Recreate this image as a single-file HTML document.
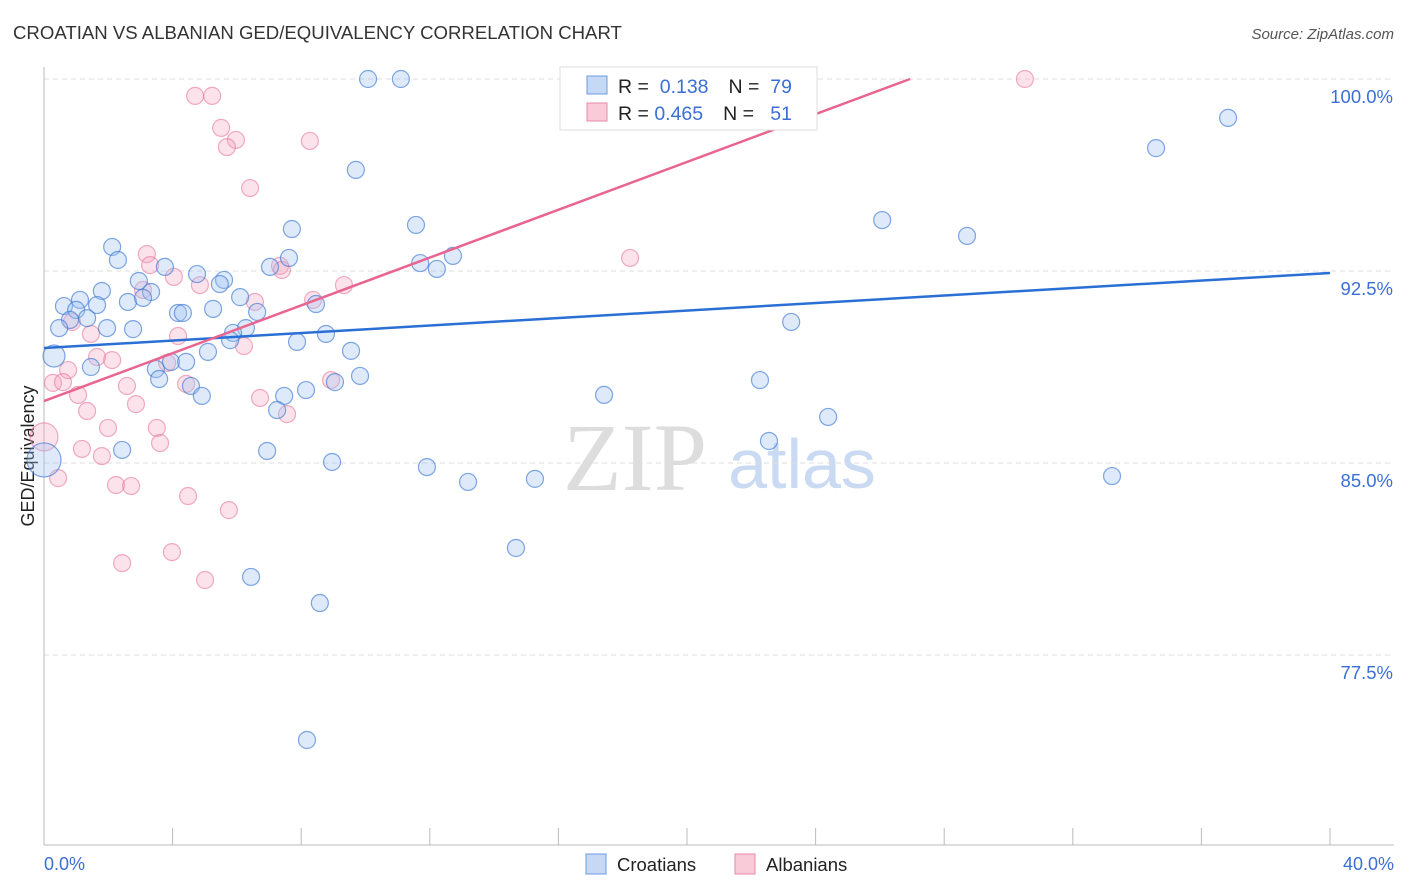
<!DOCTYPE html>
<html><head><meta charset="utf-8"><style>
body{margin:0;background:#fff;font-family:"Liberation Sans",sans-serif;}
svg{display:block}
</style></head><body>
<svg id="chart" width="1406" height="892" xmlns="http://www.w3.org/2000/svg">
<text x="13" y="39" font-size="18.6" fill="#333">CROATIAN VS ALBANIAN GED/EQUIVALENCY CORRELATION CHART</text>
<text x="1394" y="39" font-size="15" fill="#555" font-style="italic" text-anchor="end">Source: ZipAtlas.com</text>
<g>
<text x="635" y="490" font-size="96" fill="#ddd" font-family="Liberation Serif,serif" text-anchor="middle">ZIP</text>
<text x="802" y="488" font-size="70" fill="#c9daf2" text-anchor="middle">atlas</text>
</g>
<g id="grid"></g>
<line x1="44" y1="67" x2="44" y2="845" stroke="#bbb"/>
<line x1="44" y1="845" x2="1394" y2="845" stroke="#bbb"/>
<text transform="translate(34,456) rotate(-90)" font-size="18" fill="#222" text-anchor="middle">GED/Equivalency</text>
<text x="44" y="870" font-size="18" fill="#3b6fd4">0.0%</text>
<text x="1394" y="870" font-size="18" fill="#3b6fd4" text-anchor="end">40.0%</text>
<g id="pink"></g><g id="blue"></g><g id="lines"></g>
<g>
<rect x="560" y="67" width="257" height="63" fill="#fff" stroke="#ddd"/>
<rect x="587" y="76" width="20" height="18" fill="#c5d9f5" stroke="#6a9be0"/>
<rect x="587" y="103" width="20" height="18" fill="#f9cad8" stroke="#e88aa8"/>
<text x="618" y="93" font-size="19.5" fill="#222">R = <tspan fill="#3b6fd4">&#160;0.138</tspan><tspan dx="20">N = </tspan><tspan fill="#3b6fd4">&#160;79</tspan></text>
<text x="618" y="120" font-size="19.5" fill="#222">R = <tspan fill="#3b6fd4">0.465</tspan><tspan dx="20">N = </tspan><tspan fill="#3b6fd4">&#160;&#160;51</tspan></text>
</g>
<g>
<rect x="586" y="854" width="20" height="20" fill="#c5d9f5" stroke="#6a9be0"/>
<text x="617" y="871" font-size="18.5" fill="#222">Croatians</text>
<rect x="735" y="854" width="20" height="20" fill="#f9cad8" stroke="#e88aa8"/>
<text x="766" y="871" font-size="18.5" fill="#222">Albanians</text>
</g>
</svg>
<script>
const yTicks=[100,92.5,85,77.5];
const yTickLabels=["100.0%","92.5%","85.0%","77.5%"];
const xTicks=[0,4,8,12,16,20,24,28,32,36,40];
const blueX=[10.08,11.10,17.98,16.67,36.83,34.59,9.70,26.07,28.71,7.71,11.57,2.12,2.30,12.72,7.62,11.70,12.22,7.03,3.76,4.76,5.60,5.47,2.95,3.33,1.80,0.62,1.12,1.65,2.61,3.08,6.10,1.00,1.34,0.81,0.47,1.96,2.77,4.17,4.32,5.26,6.63,8.46,6.28,5.88,5.79,7.87,8.77,23.24,9.55,5.10,0.31,1.46,3.48,3.95,4.42,3.58,4.57,4.91,7.47,8.15,9.05,9.83,22.27,17.42,7.25,24.39,22.55,2.43,6.94,0,8.96,11.91,13.19,15.27,33.22,14.68,6.44,8.58,8.18];
const blueY=[100,100,100,98.87,98.48,97.30,96.45,94.49,93.87,94.14,94.30,93.44,92.93,93.09,93.01,92.81,92.58,92.66,92.66,92.38,92.15,91.99,92.11,91.68,91.72,91.13,91.37,91.17,91.29,91.45,91.48,90.98,90.66,90.59,90.27,90.27,90.23,90.86,90.86,91.02,90.90,91.21,90.27,90.08,89.80,89.73,90.04,90.51,89.38,89.34,89.18,88.75,88.67,88.95,88.95,88.28,88.01,87.62,87.62,87.85,88.16,88.40,88.24,87.66,87.07,86.80,85.86,85.51,85.47,85.12,85.04,84.84,84.26,84.38,84.49,81.68,80.55,79.53,74.18];
const blueBig=[50,69];
const pinkX=[4.70,5.23,30.51,5.51,5.97,5.69,8.27,6.41,3.20,3.30,4.04,4.85,7.34,7.40,18.23,9.33,3.08,8.37,6.56,0.87,1.46,4.17,6.22,1.65,2.12,3.83,0.75,0.28,0.59,2.58,4.42,1.06,2.86,6.72,7.56,8.93,1.34,1.99,3.51,3.61,0,1.18,1.80,0.44,2.24,2.71,4.48,5.75,3.98,2.43,5.01];
const pinkY=[99.34,99.34,100,98.09,97.62,97.34,97.58,95.74,93.16,92.73,92.27,91.95,92.70,92.54,93.01,91.95,91.76,91.37,91.29,90.51,90.04,89.96,89.57,89.14,89.02,88.91,88.63,88.13,88.16,88.01,88.09,87.66,87.30,87.54,86.91,88.24,87.03,86.37,86.37,85.78,86.02,85.55,85.27,84.41,84.14,84.10,83.71,83.16,81.52,81.09,80.43];
const pinkBig=[40];
const blueTrend=[89.49,92.42];
const pinkTrend=[87.42,0.467];
const NS="http://www.w3.org/2000/svg";
const sx=v=>44+v*32.15, sy=v=>79+(100-v)*25.6;
function mk(t,a,p){const e=document.createElementNS(NS,t);for(const k in a)e.setAttribute(k,a[k]);p.appendChild(e);return e;}
const grid=document.getElementById('grid');
yTicks.forEach((t,i)=>{
 const l=mk('line',{x1:44,x2:1394,y1:sy(t),y2:sy(t),stroke:'#ddd','stroke-dasharray':'5,4'},grid);
 
 
 const tx=mk('text',{x:1393,y:sy(t)+24,'font-size':18.5,fill:'#3b6fd4','text-anchor':'end'},grid);
 tx.textContent=yTickLabels[i];
 
 
});
xTicks.forEach(t=>{
 const l=mk('line',{x1:sx(t),x2:sx(t),y1:828,y2:845,stroke:'#bbb'},grid);
 
 
});
const pg=document.getElementById('pink');
pinkX.forEach((x,i)=>{
 const c=mk('circle',{cx:sx(x),cy:sy(pinkY[i]),r:pinkBig.includes(i)?14:8.5,fill:'rgba(244,160,190,0.3)',stroke:'rgba(230,120,155,0.6)','stroke-width':1.2},pg);
 
 
});
const bg=document.getElementById('blue');
blueX.forEach((x,i)=>{
 const c=mk('circle',{cx:sx(x),cy:sy(blueY[i]),r:blueBig.includes(i)?11:8.5,fill:'rgba(160,195,240,0.35)',stroke:'rgba(60,120,210,0.65)','stroke-width':1.2},bg);
 if(i===69)c.setAttribute('r',17);
 
 
});
const lg=document.getElementById('lines');
const bl=mk('line',{x1:sx(0),y1:sy(blueTrend[0]),x2:sx(40),y2:sy(blueTrend[1]),stroke:'#2a6fd6','stroke-width':2.5},lg);


const xe=(100-pinkTrend[0])/pinkTrend[1];
const pl=mk('line',{x1:sx(0),y1:sy(pinkTrend[0]),x2:sx(xe),y2:sy(100),stroke:'#e8658f','stroke-width':2.5},lg);


</script>
</body></html>
